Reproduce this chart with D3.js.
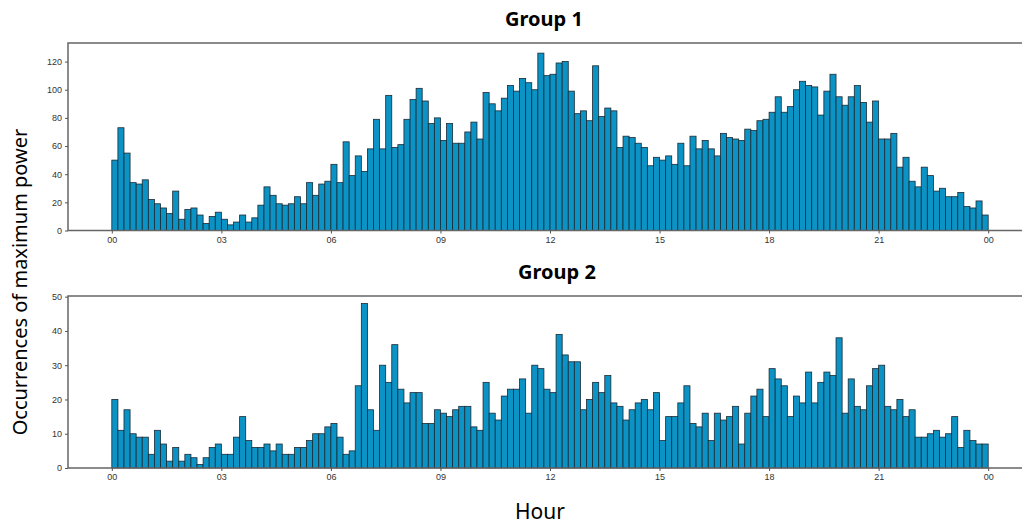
<!DOCTYPE html>
<html>
<head>
<meta charset="utf-8">
<script src="https://cdn.jsdelivr.net/npm/d3@7.9.0/dist/d3.min.js"></script>
<style>
  body { margin: 0; background: #fff; }
  svg { display: block; font-family: "Noto Sans", "DejaVu Sans", sans-serif; }
  .tick text { fill: #333; font-size: 9px; }
  .tick line { stroke: #555; }
</style>
</head>
<body>
<svg id="chart" width="1022" height="527"></svg>
<script>
// ------------------- Data -------------------
// counts per 10-minute bin, 144 bins from 00:00 to 24:00
const group1 = [
  50, 73, 55, 34, 33, 36, 22, 19, 16, 12,
  28, 8, 15, 16, 11, 5, 10, 13, 8, 4,
  6, 11, 6, 9, 18, 31, 25, 19, 18, 19,
  24, 19, 34, 25, 33, 35, 47, 34, 63, 39,
  53, 42, 58, 79, 58, 96, 59, 61, 79, 93,
  101, 92, 76, 80, 64, 76, 62, 62, 70, 77,
  65, 98, 90, 85, 94, 103, 99, 108, 105, 100,
  126, 110, 111, 119, 120, 99, 83, 85, 78, 117,
  81, 87, 85, 59, 67, 66, 62, 59, 46, 52,
  50, 53, 47, 62, 46, 67, 58, 64, 58, 53,
  69, 66, 65, 64, 72, 71, 78, 79, 84, 95,
  84, 88, 100, 106, 103, 102, 82, 99, 111, 95,
  89, 95, 103, 91, 77, 92, 65, 65, 69, 45,
  52, 35, 31, 45, 39, 28, 30, 24, 24, 27,
  17, 16, 21, 11
];

const group2 = [
  20, 11, 17, 10, 9, 9, 4, 11, 7, 2,
  6, 2, 4, 3, 1, 3, 6, 7, 4, 4,
  9, 15, 8, 6, 6, 7, 5, 7, 4, 4,
  6, 6, 8, 10, 10, 12, 13, 9, 4, 5,
  24, 48, 17, 11, 30, 25, 36, 23, 19, 22,
  22, 13, 13, 17, 16, 15, 17, 18, 18, 12,
  11, 25, 16, 14, 21, 23, 23, 26, 16, 30,
  29, 23, 22, 39, 33, 31, 31, 17, 20, 25,
  22, 27, 19, 18, 14, 17, 19, 20, 17, 22,
  8, 15, 15, 19, 24, 13, 12, 16, 8, 16,
  14, 15, 18, 7, 16, 21, 23, 15, 29, 26,
  24, 15, 21, 19, 28, 19, 25, 28, 27, 38,
  16, 26, 18, 17, 24, 29, 30, 18, 17, 20,
  15, 17, 9, 9, 10, 11, 9, 10, 15, 6,
  11, 8, 7, 7
];

const hourTicks = [0, 3, 6, 9, 12, 15, 18, 21, 24];
const hourLabels = ['00', '03', '06', '09', '12', '15', '18', '21', '00'];
const yTicks1 = [0, 20, 40, 60, 80, 100, 120];
const yTicks2 = [0, 10, 20, 30, 40, 50];

const svg = d3.select('#chart');

const xScale = d3.scaleLinear().domain([-1.2, 25.2]).range([68, 1032]);

// ------------------- Panel -------------------
function drawPanel(counts, opts) {
  const yScale = d3.scaleLinear().domain([0, opts.yMax]).range([opts.bottom, opts.top]);
  const g = svg.append('g');

  g.append('g')
    .selectAll('rect')
    .data(counts)
    .join('rect')
    .attr('x', (d, i) => xScale(i / 6))
    .attr('width', (d, i) => xScale((i + 1) / 6) - xScale(i / 6))
    .attr('y', d => yScale(d))
    .attr('height', d => yScale(0) - yScale(d))
    .attr('fill', '#0b93c6')
    .attr('stroke', '#1b2a33')
    .attr('stroke-width', 0.8);

  // frame
  g.append('path')
    .attr('d', `M1040,${opts.top}H${xScale.range()[0]}V${opts.bottom}H1040`)
    .attr('fill', 'none')
    .attr('stroke', '#666')
    .attr('stroke-width', 1.5);

  g.append('g')
    .attr('transform', `translate(0,${opts.bottom})`)
    .call(d3.axisBottom(xScale).tickValues(hourTicks).tickSize(3).tickPadding(3)
      .tickFormat((d, i) => hourLabels[i]))
    .call(a => a.select('.domain').remove());

  g.append('g')
    .attr('transform', `translate(${xScale.range()[0]},0)`)
    .call(d3.axisLeft(yScale).tickValues(opts.yTicks).tickSize(3).tickPadding(3))
    .call(a => a.select('.domain').remove());

  svg.append('text')
    .attr('x', opts.titleX)
    .attr('y', opts.top - 17)
    .attr('text-anchor', 'middle')
    .style('font-size', '20px')
    .style('font-weight', 'bold')
    .text(opts.title);
}

drawPanel(group1, { top: 43, bottom: 230.5, yMax: 133.2, yTicks: yTicks1, title: 'Group 1', titleX: 544 });
drawPanel(group2, { top: 296, bottom: 468, yMax: 50.2, yTicks: yTicks2, title: 'Group 2', titleX: 557 });

// ------------------- Axis titles -------------------
svg.append('text')
  .attr('transform', 'translate(27,282) rotate(-90)')
  .attr('text-anchor', 'middle')
  .style('font-size', '20px')
  .text('Occurrences of maximum power');

svg.append('text')
  .attr('x', 540)
  .attr('y', 519)
  .attr('text-anchor', 'middle')
  .style('font-size', '21px')
  .text('Hour');
</script>
</body>
</html>
